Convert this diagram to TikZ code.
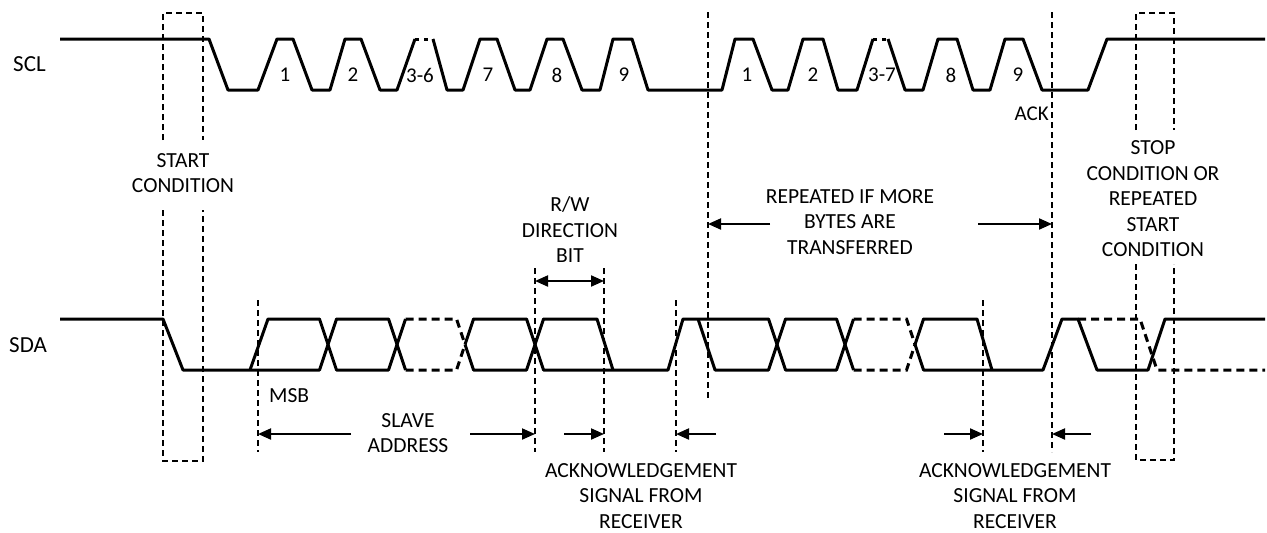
\documentclass[tikz,border=0pt]{standalone}
\usepackage{fontspec}
\setmainfont{Carlito}
\usetikzlibrary{arrows.meta}
\begin{document}
\begin{tikzpicture}[x=1pt,y=-1pt,
  wave/.style={line width=3pt,line join=round},
  wavedash/.style={line width=3pt,dash pattern=on 8pt off 5pt},
  wavedot/.style={line width=3pt,dash pattern=on 4pt off 5pt},
  guide/.style={line width=1.8pt,dash pattern=on 6pt off 4pt},
  harrow/.style={line width=2pt,-{Triangle[length=13pt,width=11pt]}},
  lbl/.style={inner sep=0pt,align=center,font=\fontsize{21.5}{25.5}\selectfont},
  num/.style={inner sep=0pt,font=\fontsize{21}{25}\selectfont},
  sig/.style={inner sep=0pt,font=\fontsize{23}{27}\selectfont}]
\useasboundingbox (0,0) rectangle (1267,533);
\def\H{39}\def\L{90}
% ---------- SCL ----------
\node[sig,anchor=west] (scl) at (13,64) {SCL};
\draw[wave] (60,\H) -- (209,\H) -- (228,\L) -- (258,\L) -- (277,\H) -- (293,\H) -- (312,\L)
  -- (330,\L) -- (345,\H) -- (361,\H) -- (380,\L) -- (397,\L) -- (415,\H);
\draw[wavedot] (415,\H) -- (433,\H);
\draw[wave] (433,\H) -- (447,\L) -- (463,\L) -- (480,\H) -- (497,\H) -- (515,\L) -- (530,\L)
  -- (547,\H) -- (563,\H) -- (582,\L) -- (600,\L) -- (613,\H) -- (632,\H) -- (648,\L)
  -- (722,\L) -- (735,\H) -- (753,\H) -- (772,\L) -- (788,\L) -- (803,\H) -- (823,\H)
  -- (838,\L) -- (857,\L) -- (873,\H);
\draw[wavedot] (873,\H) -- (888,\H);
\draw[wave] (888,\H) -- (905,\L) -- (923,\L) -- (938,\H) -- (957,\H) -- (973,\L) -- (990,\L)
  -- (1005,\H) -- (1023,\H) -- (1042,\L) -- (1088,\L) -- (1107,\H) -- (1265,\H);
\node[num] (n1) at (285,75) {1};
\node[num] (n2) at (353,75) {2};
\node[num] (n3) at (420,75) {3-6};
\node[num] (n4) at (488,75) {7};
\node[num] (n5) at (557,75) {8};
\node[num] (n6) at (624,75) {9};
\node[num] (n7) at (747,75) {1};
\node[num] (n8) at (813,75) {2};
\node[num] (n9) at (882,75) {3-7};
\node[num] (n10) at (951,75) {8};
\node[num] (n11) at (1018,75) {9};
\node[num,anchor=east] (ack) at (1049,114) {ACK};
% ---------- SDA ----------
\def\h{319}\def\l{370}\def\m{344.5}
\node[sig,anchor=west] (sda) at (9,345) {SDA};
\draw[wave] (60,\h) -- (163,\h) -- (183,\l) -- (319.5,\l) -- (336.5,\h) -- (388.5,\h) -- (405.5,\l);
\draw[wave] (250,\l) -- (268,\h) -- (319.5,\h) -- (336.5,\l) -- (388.5,\l) -- (405.5,\h);
\draw[wavedash] (405.5,\h) -- (456.5,\h) -- (465,\m);
\draw[wavedash] (405.5,\l) -- (456.5,\l) -- (465,\m);
\draw[wave] (465,\m) -- (473.5,\l) -- (526.5,\l) -- (543.5,\h) -- (597,\h) -- (613,\l);
\draw[wave] (465,\m) -- (473.5,\h) -- (526.5,\h) -- (543.5,\l) -- (668,\l) -- (683,\h)
  -- (768.5,\h) -- (785.5,\l) -- (836.5,\l) -- (853.5,\h);
\draw[wave] (698,\h) -- (715,\l) -- (768.5,\l) -- (785.5,\h) -- (836.5,\h) -- (853.5,\l);
\draw[wavedash] (853.5,\h) -- (906.5,\h) -- (915,\m);
\draw[wavedash] (853.5,\l) -- (906.5,\l) -- (915,\m);
\draw[wave] (915,\m) -- (923.5,\h) -- (977,\h) -- (992,\l);
\draw[wave] (915,\m) -- (923.5,\l) -- (1043,\l) -- (1062,\h) -- (1078,\h) -- (1097,\l)
  -- (1148,\l) -- (1165,\h) -- (1265,\h);
\draw[wavedash] (1078,\h) -- (1140,\h) -- (1157,\l) -- (1265,\l);
% ---------- guide lines ----------
\draw[guide] (163,140) -- (163,13) -- (203,13) -- (203,140);
\draw[guide] (163,210) -- (163,461) -- (203,461) -- (203,210);
\draw[guide] (1136,130) -- (1136,13) -- (1174,13) -- (1174,130);
\draw[guide] (1136,264) -- (1136,460) -- (1174,460) -- (1174,264);
\coordinate (gMSBt) at (258,300); \coordinate (gMSBb) at (258,452);
\coordinate (gRWt) at (535,268);  \coordinate (gRWb) at (535,452);
\coordinate (gA1t) at (604,268);  \coordinate (gA1b) at (604,452);
\coordinate (gA2t) at (676,300);  \coordinate (gA2b) at (676,452);
\coordinate (gRt) at (708,12);    \coordinate (gRb) at (708,400);
\coordinate (gB1t) at (983,300);  \coordinate (gB1b) at (983,452);
\coordinate (gB2t) at (1052,12);  \coordinate (gB2b) at (1052,452);
\foreach \a/\b in {gMSBt/gMSBb,gRWt/gRWb,gA1t/gA1b,gA2t/gA2b,gRt/gRb,gB1t/gB1b,gB2t/gB2b}
  \draw[guide] (\a) -- (\b);
% ---------- labels ----------
\node[lbl] (start) at (183,173) {START\\CONDITION};
\node[lbl] (rw) at (570,230) {R/W\\DIRECTION\\BIT};
\node[lbl] (rep) at (850,222) {REPEATED IF MORE\\BYTES ARE\\TRANSFERRED};
\node[lbl] (stop) at (1153,199) {STOP\\CONDITION OR\\REPEATED\\START\\CONDITION};
\node[lbl,anchor=west] (msb) at (269,396) {MSB};
\node[lbl] (slave) at (408,433) {SLAVE\\ADDRESS};
\node[lbl] (ack1) at (641,496) {ACKNOWLEDGEMENT\\SIGNAL FROM\\RECEIVER};
\node[lbl] (ack2) at (1015,496) {ACKNOWLEDGEMENT\\SIGNAL FROM\\RECEIVER};
% ---------- arrows ----------
\draw[line width=2pt,{Triangle[length=13pt,width=11pt]}-{Triangle[length=13pt,width=11pt]}]
  (gRWt|-0,281) coordinate (rwL) -- (gA1t|-0,281) coordinate (rwR);
\coordinate (r1) at (770,224); \coordinate (r2) at (978,224);
\draw[harrow] (r1) -- (gRt|-r1);
\draw[harrow] (r2) -- (gB2t|-r2);
\coordinate (s1) at (351,434); \coordinate (s2) at (470,434);
\draw[harrow] (s1) -- (gMSBt|-s1);
\draw[harrow] (s2) -- (gRWt|-s2);
\coordinate (a1) at (564,434); \coordinate (a2) at (716,434);
\draw[harrow] (a1) -- (gA1t|-a1);
\draw[harrow] (a2) -- (gA2t|-a2);
\coordinate (b1) at (944,434); \coordinate (b2) at (1091,434);
\draw[harrow] (b1) -- (gB1t|-b1);
\draw[harrow] (b2) -- (gB2t|-b2);
\end{tikzpicture}
\end{document}
